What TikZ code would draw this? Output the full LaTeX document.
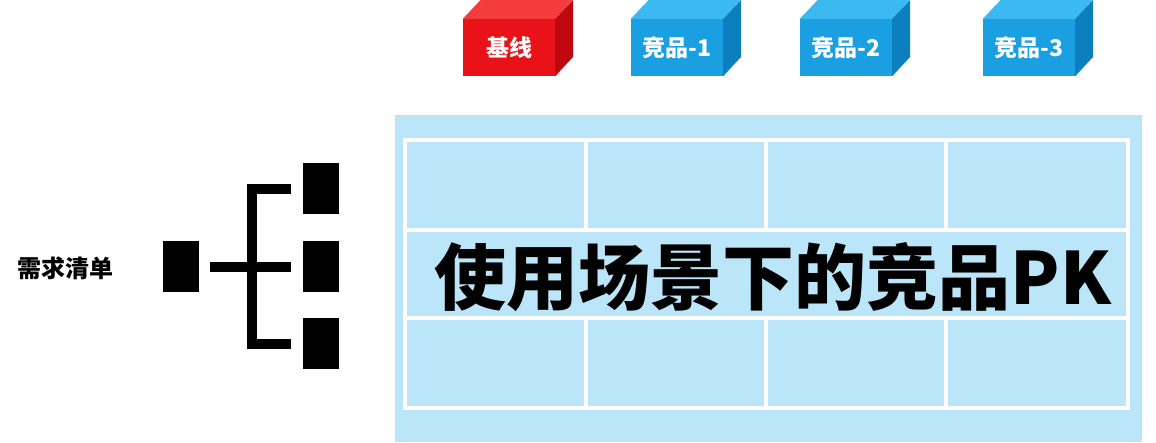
\documentclass[tikz,border=0pt]{standalone}
\usepackage{fontspec}
\newfontfamily\cjk{Noto Sans CJK SC}
\usetikzlibrary{positioning,calc}

\definecolor{cubeRedF}{RGB}{232,18,24}
\definecolor{cubeRedT}{RGB}{245,60,60}
\definecolor{cubeRedS}{RGB}{190,8,14}
\definecolor{cubeBlueF}{RGB}{26,160,226}
\definecolor{cubeBlueT}{RGB}{60,185,240}
\definecolor{cubeBlueS}{RGB}{12,128,190}
\definecolor{panelblue}{RGB}{187,229,248}

\tikzset{
    blk/.style={fill=black, minimum width=36pt, minimum height=51pt, inner sep=0pt},
    branch/.style={line width=10pt},
    gridline/.style={draw=white, line width=4pt},
    cubefront/.style={minimum width=92pt, minimum height=57pt, inner sep=0pt,
        text=white, font=\cjk\bfseries\fontsize{23}{26}\selectfont},
}

\begin{document}
\begin{tikzpicture}[x=1pt, y=-1pt]
    \useasboundingbox (0,0) rectangle (1156,442);

    % cubes on top
    \foreach \x/\lbl/\col [count=\i] in {463/基线/Red, 631/竞品-1/Blue, 800/竞品-2/Blue, 983/竞品-3/Blue} {
        \node[cubefront, fill=cube\col F] (cube\i) at (\x+46,47.5) {\lbl};
        \fill[cube\col T] (cube\i.north west) -- ++(18,-19) -- ++(92,0) -- (cube\i.north east) -- cycle;
        \fill[cube\col S] (cube\i.north east) -- ++(18,-19) -- ++(0,57) -- (cube\i.south east) -- cycle;
    }

    % requirement list and its tree
    \node[font=\cjk\bfseries\fontsize{24}{28}\selectfont] (req) at (65,268) {需求清单};
    \node[blk] (root) at (181,266.5) {};
    \node[blk] (leaf1) at (320.5,188.5) {};
    \node[blk] (leaf2) at (320.5,266.5) {};
    \node[blk] (leaf3) at (320.5,343.5) {};
    \coordinate (j) at (251.5,266.5);
    \draw[branch] ($(root.east)+(11,0)$) -- ($(leaf2.west)+(-11,0)$);
    \draw[branch] ($(leaf1.west)+(-11,0)$) -| (j) |- ($(leaf3.west)+(-11,0)$);

    % comparison panel
    \fill[panelblue] (395,115) rectangle (1142,442);
    \draw[gridline] (405,140) rectangle (1128,408);
    \draw[gridline] (405,230) -- (1128,230);
    \draw[gridline] (405,318) -- (1128,318);
    \foreach \cx in {586,766,946} {
        \draw[gridline] (\cx,140) -- (\cx,230);
        \draw[gridline] (\cx,318) -- (\cx,408);
    }
    \node[font=\cjk\bfseries\fontsize{72}{80}\selectfont] (title) at (773,277) {使用场景下的竞品PK};
\end{tikzpicture}
\end{document}
